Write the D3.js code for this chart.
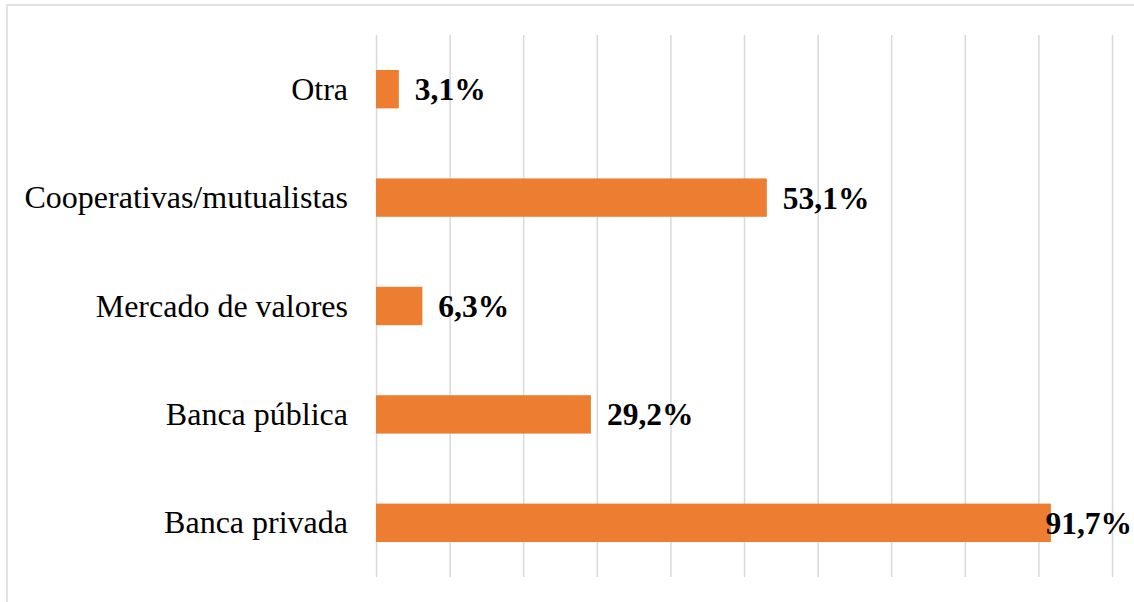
<!DOCTYPE html>
<html>
<head>
<meta charset="utf-8">
<script src="https://cdn.jsdelivr.net/npm/d3@7"></script>
<style>
  body { margin: 0; background: #fff; }
  svg { display: block; }
</style>
</head>
<body>
<script>
// data (top to bottom)
var categories = ["Otra", "Cooperativas/mutualistas", "Mercado de valores", "Banca pública", "Banca privada"];
var values = [3.1, 53.1, 6.3, 29.2, 91.7];
var gridTicks = [0, 10, 20, 30, 40, 50, 60, 70, 80, 90, 100];

var width = 1134, height = 602;
var margin = {top: 35, right: 22, bottom: 25, left: 376};
var innerW = width - margin.left - margin.right;
var innerH = height - margin.top - margin.bottom;

var svg = d3.select("body").append("svg")
  .attr("width", width)
  .attr("height", height);

// chart border
svg.append("rect")
  .attr("x", 7).attr("y", 5)
  .attr("width", 1140).attr("height", 640)
  .attr("fill", "none")
  .attr("stroke", "#d9d9d9")
  .attr("stroke-width", 1.5);

var g = svg.append("g")
  .attr("transform", "translate(" + margin.left + "," + margin.top + ")");

var x = d3.scaleLinear().domain([0, 100]).range([0, innerW]);
var y = d3.scaleBand().domain(categories).range([0, innerH]).paddingInner(0.646).paddingOuter(0.323);

// vertical gridlines
var grid = g.append("g")
  .attr("transform", "translate(0," + innerH + ")")
  .call(d3.axisBottom(x).tickValues(gridTicks).tickSize(innerH).tickFormat(""))
grid.select(".domain").remove();
grid.selectAll(".tick line")
  .attr("y2", -innerH)
  .attr("stroke", "#d9d9d9")
  .attr("stroke-width", 1.5);

// category labels
var yAxis = g.append("g")
  .call(d3.axisLeft(y).tickSize(0).tickPadding(28));
yAxis.select(".domain").remove();
yAxis.selectAll("text")
  .attr("font-family", "'Liberation Serif', 'Times New Roman', serif")
  .attr("font-size", "32px")
  .attr("fill", "#000")
  .attr("dy", "0.33em");

// bars
g.selectAll("rect.bar")
  .data(values)
  .enter()
  .append("rect")
  .attr("class", "bar")
  .attr("x", x(0))
  .attr("y", function(d, i) { return y(categories[i]); })
  .attr("width", function(d) { return x(d); })
  .attr("height", y.bandwidth())
  .attr("fill", "#ed7d31");

// value labels
var fmt = function(d) { return d.toFixed(1).replace(".", ",") + "%"; };
var rightLimit = width - 2 - margin.left;
g.selectAll("text.val")
  .data(values)
  .enter()
  .append("text")
  .attr("class", "val")
  .attr("font-family", "'Liberation Serif', 'Times New Roman', serif")
  .attr("font-size", "31.5px")
  .attr("font-weight", "bold")
  .attr("fill", "#000")
  .attr("y", function(d, i) { return y(categories[i]) + y.bandwidth() / 2; })
  .attr("dy", "0.35em")
  .text(fmt)
  .attr("x", function(d) {
    var w = this.getComputedTextLength();
    var pos = x(d) + 16;
    if (pos + w > rightLimit) pos = rightLimit - w;
    return pos;
  });
</script>
</body>
</html>
